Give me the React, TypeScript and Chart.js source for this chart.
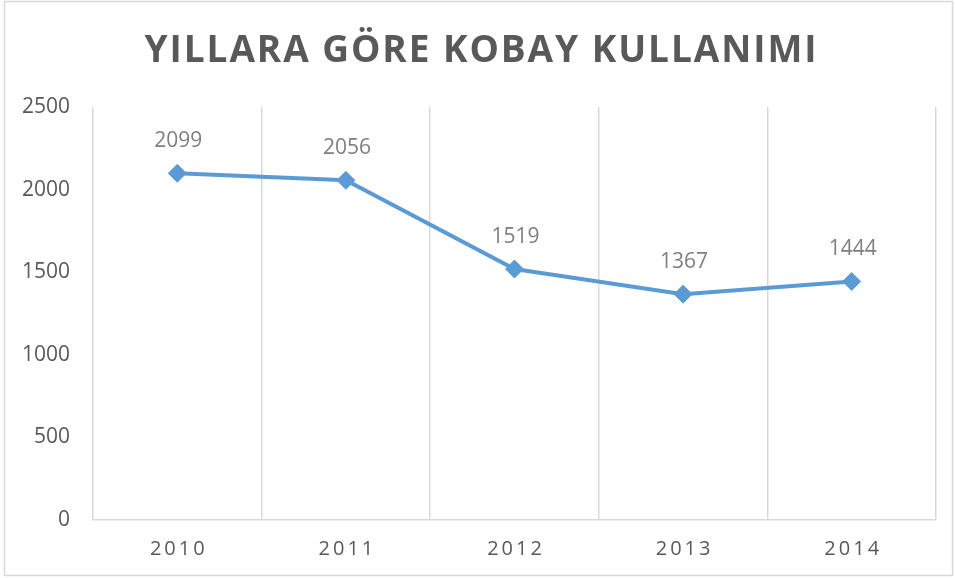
import React, { useEffect, useRef } from "react";
import { Chart, registerables } from "chart.js";

Chart.register(...registerables);

const titleText = "YILLARA GÖRE KOBAY KULLANIMI";
const years = ["2010", "2011", "2012", "2013", "2014"];
const usage = [2099, 2056, 1519, 1367, 1444];
const yMin = 0;
const yMax = 2500;
const yStep = 500;

const FONT = "'Open Sans', 'DejaVu Sans', sans-serif";

const framePlugin = {
  id: "frame",
  afterDraw(chart: any) {
    const ctx = chart.ctx;
    ctx.save();
    // outer border
    ctx.strokeStyle = "#d9d9d9";
    ctx.lineWidth = 1.5;
    ctx.strokeRect(4.5, 1.5, 948, 574);
    // title
    ctx.fillStyle = "#595959";
    ctx.font = `bold 37px ${FONT}`;
    ctx.textBaseline = "alphabetic";
    ctx.textAlign = "left";
    const targetW = 672;
    (ctx as any).letterSpacing = "0px";
    const w0 = ctx.measureText(titleText).width;
    const sp = (targetW - w0) / (titleText.length - 1);
    (ctx as any).letterSpacing = sp + "px";
    const cx = chart.width / 2 + 3;
    ctx.fillText(titleText, cx - targetW / 2, 62);
    (ctx as any).letterSpacing = "0px";

    // x labels with letter spacing
    const xs = chart.scales.x;
    ctx.font = `20px ${FONT}`;
    ctx.fillStyle = "#595959";
    const ls = 3;
    (ctx as any).letterSpacing = ls + "px";
    ctx.textBaseline = "alphabetic";
    years.forEach((lab, i) => {
      const px = xs.getPixelForValue(i);
      const w = ctx.measureText(lab).width - ls;
      ctx.fillText(lab, px - w / 2, 555);
    });
    (ctx as any).letterSpacing = "0px";
    ctx.restore();
  },
  afterDatasetsDraw(chart: any) {
    const ctx = chart.ctx;
    const meta = chart.getDatasetMeta(0);
    ctx.save();
    ctx.font = `21px ${FONT}`;
    ctx.fillStyle = "#7f7f7f";
    ctx.textAlign = "center";
    ctx.textBaseline = "alphabetic";
    meta.data.forEach((pt: any, i: number) => {
      ctx.fillText(String(usage[i]), pt.x + 1, pt.y - 26);
    });
    ctx.restore();
  },
};

export default function App() {
  const ref = useRef<HTMLCanvasElement>(null);
  useEffect(() => {
    const chart = new Chart(ref.current!, {
      type: "line",
      data: {
        labels: years,
        datasets: [
          {
            data: usage,
            borderColor: "#5b9bd5",
            backgroundColor: "#5b9bd5",
            borderWidth: 4,
            pointStyle: "rectRot",
            pointRadius: 9,
            pointBorderWidth: 1,
            pointBorderColor: "#5b9bd5",
            pointBackgroundColor: "#5b9bd5",
            tension: 0,
          },
        ],
      },
      options: {
        animation: false,
        responsive: false,
        maintainAspectRatio: false,
        layout: { padding: { left: 0, right: 19, top: 107, bottom: 0 } },
        plugins: {
          legend: { display: false },
          title: { display: false },
          tooltip: { enabled: false },
        },
        scales: {
          x: {
            offset: true,
            grid: {
              offset: true,
              color: "#d9d9d9",
              lineWidth: 1.5,
              drawTicks: false,
            },
            border: { display: true, color: "#d9d9d9", width: 1.5 },
            ticks: { display: false },
            afterFit: (s: any) => {
              s.height = 58;
            },
          },
          y: {
            min: yMin,
            max: yMax,
            grid: { display: false, drawTicks: false },
            border: { display: false },
            ticks: {
              stepSize: yStep,
              padding: 23,
              color: "#595959",
              font: { family: FONT, size: 21 },
              callback: (v: any) => String(v),
            },
            afterFit: (s: any) => {
              s.width = 93;
            },
          },
        },
      },
      plugins: [framePlugin],
    });
    return () => chart.destroy();
  }, []);
  return (
    <div style={{ position: "absolute", left: 0, top: 0, width: 955, height: 578, background: "#fff" }}>
      <canvas ref={ref} width={955} height={578} style={{ display: "block" }} />
    </div>
  );
}
